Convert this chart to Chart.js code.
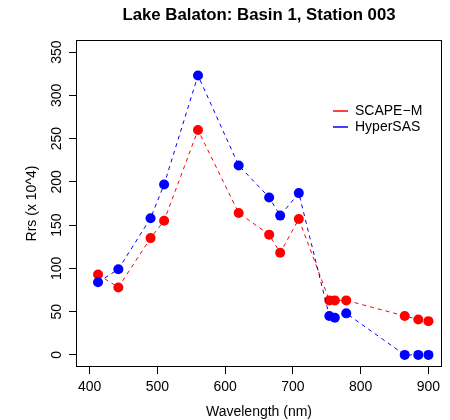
<!DOCTYPE html>
<html>
<head>
<meta charset="utf-8">
<title>Lake Balaton: Basin 1, Station 003</title>
<script src="https://cdn.jsdelivr.net/npm/chart.js@4"></script>
<style>
  body { margin: 0; background: #fff; }
  #wrap { width: 450px; height: 420px; }
</style>
</head>
<body>
<div id="wrap"><canvas id="chart" width="450" height="420"></canvas></div>
<script>
// ── Data ───────────────────────────────────────────────
const wavelengths = [412.5, 442.5, 490, 510, 560, 620, 665, 681.25, 708.75, 753.75, 761.875, 778.75, 865, 885, 900];
const scapeM   = [93, 78, 135, 155, 260, 164, 139, 118, 157, 63, 63, 63, 45, 41, 39];
const hyperSAS = [84, 99, 158, 197, 323, 219, 182, 161, 187, 45, 43, 48, 0, 0, 0];
const xTicks = [400, 500, 600, 700, 800, 900];
const yTicks = [0, 50, 100, 150, 200, 250, 300, 350];

const TITLE = 'Lake Balaton: Basin 1, Station 003';
const FONT = '"Liberation Sans", Arial, Helvetica, sans-serif';

// ── Helpers ────────────────────────────────────────────
const toPoints = ys => wavelengths.map((x, i) => ({ x, y: ys[i] }));

function series(label, ys, color, order) {
  return {
    label,
    data: toPoints(ys),
    order,
    borderColor: color,
    backgroundColor: color,
    borderWidth: 1,
    borderDash: [4, 4],
    tension: 0,
    pointRadius: 5,
    pointBorderWidth: 0,
    pointBackgroundColor: color,
  };
}

// ── Plugins: R-style title, box and legend ─────────────
const rTitle = {
  id: 'rTitle',
  afterDraw(chart) {
    const { ctx, chartArea: a } = chart;
    ctx.save();
    ctx.font = `bold 16.8px ${FONT}`;
    ctx.fillStyle = '#000';
    ctx.textAlign = 'center';
    ctx.textBaseline = 'middle';
    ctx.fillText(TITLE, (a.left + a.right) / 2, 15);
    ctx.restore();
  },
};

const rBox = {
  id: 'rBox',
  afterDraw(chart) {
    const { ctx, chartArea: a } = chart;
    ctx.save();
    ctx.strokeStyle = '#000';
    ctx.lineWidth = 1;
    ctx.strokeRect(Math.round(a.left) + 0.5, Math.round(a.top) + 0.5,
      Math.round(a.right - a.left) - 1, Math.round(a.bottom - a.top) - 1);
    ctx.restore();
  },
};

const rLegend = {
  id: 'rLegend',
  afterDraw(chart) {
    const { ctx, chartArea: a } = chart;
    const x0 = a.right - 109, y0 = a.top + 71;
    ctx.save();
    ctx.font = `14px ${FONT}`;
    ctx.textBaseline = 'middle';
    ctx.textAlign = 'left';
    chart.data.datasets.forEach((ds, i) => {
      const y = y0 + i * 16;
      ctx.strokeStyle = ds.borderColor;
      ctx.lineWidth = 1.5;
      ctx.beginPath();
      ctx.moveTo(x0, y);
      ctx.lineTo(x0 + 15, y);
      ctx.stroke();
      ctx.fillStyle = '#000';
      ctx.fillText(ds.label, x0 + 22, y);
    });
    ctx.restore();
  },
};

// ── Chart ──────────────────────────────────────────────
Chart.defaults.font.family = FONT;
Chart.defaults.font.size = 14;
Chart.defaults.color = '#000';

new Chart(document.getElementById('chart'), {
  type: 'line',
  data: {
    datasets: [
      series('SCAPE\u2212M', scapeM, '#ff0000', 1),
      series('HyperSAS', hyperSAS, '#0000ff', 0),
    ],
  },
  options: {
    responsive: false,
    animation: false,
    layout: { padding: { top: 40, right: 8, left: 0, bottom: 0 } },
    plugins: {
      legend: { display: false },
      tooltip: { enabled: false },
      title: { display: false },
    },
    scales: {
      x: {
        type: 'linear',
        min: 380,
        max: 920,
        afterBuildTicks: s => { s.ticks = xTicks.map(v => ({ value: v })); },
        afterFit: s => { s.height = 53; },
        border: { display: false },
        grid: { drawOnChartArea: false, drawTicks: true, tickLength: 7, color: '#000' },
        ticks: { padding: 5, maxRotation: 0, color: '#000' },
        title: { display: true, text: 'Wavelength (nm)', padding: { top: 0, bottom: -1 }, color: '#000' },
      },
      y: {
        type: 'linear',
        min: -14,
        max: 364,
        afterBuildTicks: s => { s.ticks = yTicks.map(v => ({ value: v })); },
        afterFit: s => { s.width = 76; },
        border: { display: false },
        grid: { drawOnChartArea: false, drawTicks: true, tickLength: 7, color: '#000' },
        ticks: { padding: 0, minRotation: 90, maxRotation: 90, crossAlign: 'center', color: '#000' },
        title: { display: true, text: 'Rrs (x 10^4)', padding: { top: 24, bottom: 0 }, color: '#000' },
      },
    },
  },
  plugins: [rTitle, rBox, rLegend],
});
</script>
</body>
</html>
